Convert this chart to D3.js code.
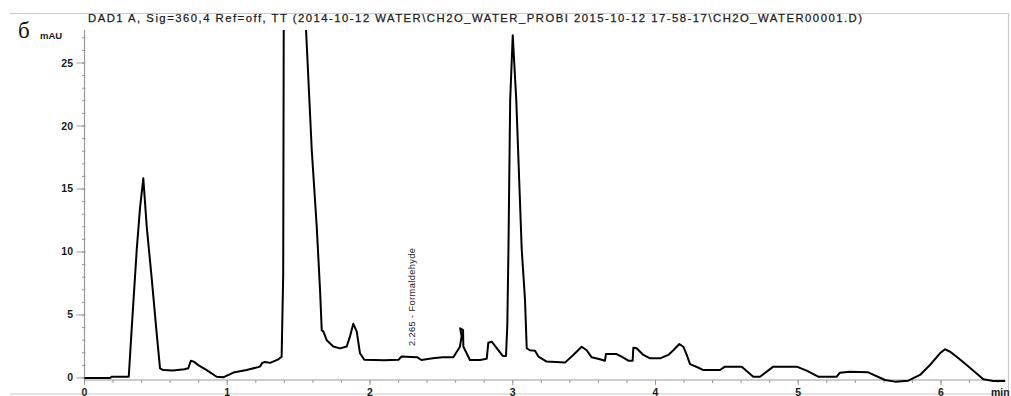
<!DOCTYPE html>
<html><head><meta charset="utf-8">
<script src="https://cdn.jsdelivr.net/npm/d3@7/dist/d3.min.js"></script>
<style>body{margin:0;background:#fff}svg{display:block}</style>
</head><body>
<svg id="c" width="1011" height="396"></svg>
<script>
const titleText = "DAD1 A, Sig=360,4 Ref=off, TT (2014-10-12 WATER\\CH2O_WATER_PROBI 2015-10-12 17-58-17\\CH2O_WATER00001.D)";
const panelLabel = "б";
const yUnit = "mAU";
const xUnit = "min";
const xTicks = [0, 1, 2, 3, 4, 5, 6];
const yTicks = [0, 5, 10, 15, 20, 25];
const peakLabel = "2.265 - Formaldehyde";
const peakTime = 2.265;
const times = [0.00,0.18,0.19,0.31,0.33,0.366,0.389,0.412,0.436,0.47,0.506,0.529,0.552,0.62,0.70,0.727,0.745,0.765,0.80,0.856,0.926,0.972,1.043,1.136,1.229,1.245,1.264,1.30,1.358,1.381,1.392,1.398,1.47,1.54,1.592,1.627,1.65,1.662,1.673,1.697,1.743,1.79,1.837,1.86,1.883,1.907,1.93,1.96,2.10,2.20,2.22,2.33,2.36,2.44,2.51,2.584,2.63,2.642,2.632,2.652,2.654,2.70,2.77,2.818,2.829,2.853,2.90,2.93,2.953,2.962,2.97,2.982,3.0,3.025,3.063,3.086,3.098,3.12,3.156,3.18,3.238,3.366,3.424,3.483,3.518,3.553,3.611,3.646,3.653,3.728,3.763,3.81,3.84,3.845,3.868,3.915,3.962,4.032,4.09,4.125,4.167,4.195,4.219,4.242,4.31,4.335,4.452,4.487,4.604,4.685,4.732,4.825,4.989,5.059,5.14,5.27,5.292,5.362,5.49,5.608,5.678,5.771,5.853,5.923,5.993,6.028,6.063,6.11,6.18,6.297,6.366,6.45];
const signal = [0.00,0.00,0.10,0.10,3.8,10.2,13.5,15.85,12.0,8.0,3.5,0.77,0.63,0.60,0.70,0.77,1.37,1.30,1.00,0.63,0.10,0.05,0.43,0.63,0.90,1.20,1.27,1.20,1.48,1.69,8.2,40,100,30.5,18.1,12.0,7.0,3.8,3.7,3.0,2.5,2.35,2.5,3.3,4.3,3.7,1.96,1.45,1.40,1.45,1.70,1.65,1.43,1.56,1.64,1.64,2.48,3.3,3.94,3.8,2.5,1.43,1.43,1.53,2.8,2.88,2.2,1.75,1.75,4.2,10.2,22,27.2,22,10.2,6.2,2.36,2.2,2.17,1.7,1.3,1.22,1.83,2.48,2.2,1.64,1.48,1.37,1.9,1.9,1.69,1.37,1.37,2.4,2.36,1.83,1.56,1.56,1.83,2.2,2.7,2.48,1.83,1.1,0.77,0.63,0.63,0.9,0.9,0.1,0.1,0.9,0.9,0.58,0.1,0.1,0.42,0.5,0.45,-0.16,-0.29,-0.21,0.24,1.03,1.96,2.28,2.09,1.69,1.03,-0.1,-0.24,-0.24];

const svg = d3.select("#c");
const x = d3.scaleLinear().domain([0, 6.45]).range([84.5, 1005.2]);
const y = d3.scaleLinear().domain([-0.16, 27.62]).range([380, 30]);
const font = "'Liberation Sans', Arial, sans-serif";
const axisCol = "#999";
const txtCol = "#1a1a1a";

// frame
svg.append("path").attr("d", "M10,13.5H1008.5V394H10").attr("fill", "none").attr("stroke", "#c8c8c8").attr("stroke-width", 1.2);

// title
svg.append("text").attr("x", 475).attr("y", 22).attr("text-anchor", "middle")
  .attr("font-family", font).attr("font-size", 11.3).attr("fill", txtCol).attr("textLength", 774)
  .attr("stroke", txtCol).attr("stroke-width", 0.25)
  .text(titleText);
svg.append("text").attr("x", 18).attr("y", 38).attr("font-family", "'Liberation Serif', 'DejaVu Serif', serif")
  .attr("font-size", 23).attr("fill", "#111").text(panelLabel);
svg.append("text").attr("x", 40).attr("y", 39).attr("font-family", font).attr("font-weight", "bold")
  .attr("font-size", 9.5).attr("fill", txtCol).text(yUnit);

// y axis
const yMinor = d3.range(0, 28, 1);
const gy = svg.append("g");
gy.append("line").attr("x1", x(0)).attr("x2", x(0)).attr("y1", 30).attr("y2", 381).attr("stroke", axisCol).attr("stroke-width", 1.2);
gy.selectAll(".ymin").data(yMinor).enter().append("line")
  .attr("x1", x(0) - 2.5).attr("x2", x(0) + 1).attr("y1", d => y(d)).attr("y2", d => y(d))
  .attr("stroke", axisCol).attr("stroke-width", 1);
gy.selectAll(".ymaj").data(yTicks).enter().append("line")
  .attr("x1", x(0) - 8).attr("x2", x(0)).attr("y1", d => y(d)).attr("y2", d => y(d))
  .attr("stroke", axisCol).attr("stroke-width", 1);
gy.selectAll(".ylab").data(yTicks).enter().append("text")
  .attr("x", 73).attr("y", d => y(d) + 3.5).attr("text-anchor", "end")
  .attr("font-family", font).attr("font-weight", "bold").attr("font-size", 10.5).attr("fill", txtCol)
  .text(d => d);

// x axis
const xMinor = d3.range(0, 6.41, 0.2);
const gx = svg.append("g");
gx.append("line").attr("x1", x(0)).attr("x2", 1005).attr("y1", 380).attr("y2", 380).attr("stroke", axisCol).attr("stroke-width", 1.2);
gx.selectAll(".xmin").data(xMinor).enter().append("line")
  .attr("x1", d => x(d)).attr("x2", d => x(d)).attr("y1", 380).attr("y2", 383)
  .attr("stroke", axisCol).attr("stroke-width", 1);
gx.selectAll(".xmaj").data(xTicks).enter().append("line")
  .attr("x1", d => x(d)).attr("x2", d => x(d)).attr("y1", 380).attr("y2", 385)
  .attr("stroke", axisCol).attr("stroke-width", 1);
gx.selectAll(".xlab").data(xTicks).enter().append("text")
  .attr("x", d => x(d)).attr("y", 395.5).attr("text-anchor", "middle")
  .attr("font-family", font).attr("font-weight", "bold").attr("font-size", 10.5).attr("fill", txtCol)
  .text(d => d);
svg.append("text").attr("x", 991).attr("y", 395.5).attr("font-family", font).attr("font-weight", "bold")
  .attr("font-size", 10.5).attr("fill", txtCol).text(xUnit);

// trace
svg.append("clipPath").attr("id", "clip").append("rect").attr("x", 80).attr("y", 30).attr("width", 930).attr("height", 360);
const pts = times.map((t, i) => [t, signal[i]]);
svg.append("path").datum(pts).attr("clip-path", "url(#clip)")
  .attr("d", d3.line().x(d => x(d[0])).y(d => y(d[1])))
  .attr("fill", "none").attr("stroke", "#000").attr("stroke-width", 2).attr("stroke-linejoin", "round");

// peak annotation
svg.append("text")
  .attr("transform", `translate(${x(peakTime) + 7},346) rotate(-90)`)
  .attr("font-family", font).attr("font-size", 9.3).attr("fill", txtCol).attr("textLength", 98)
  .text(peakLabel);
</script>
</body></html>
